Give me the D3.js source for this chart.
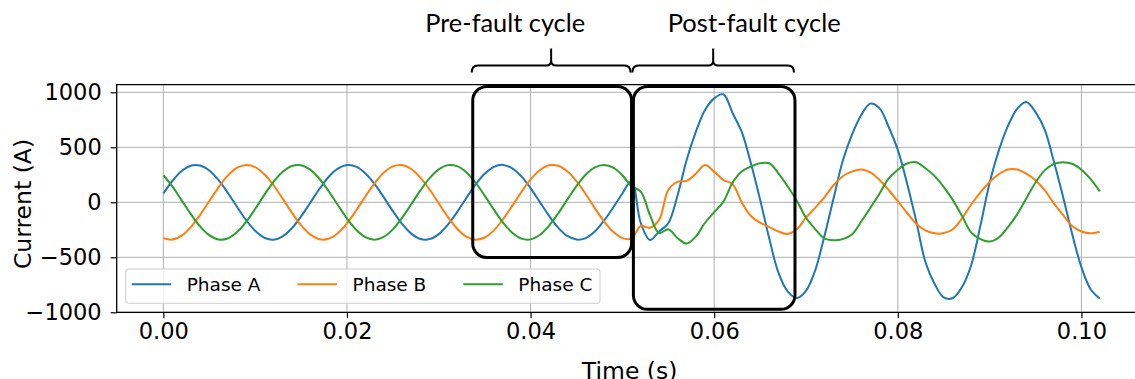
<!DOCTYPE html>
<html>
<head>
<meta charset="utf-8">
<script src="https://cdn.jsdelivr.net/npm/d3@7"></script>
<style>
  body { margin: 0; background: #fff; }
  svg { display: block; }
</style>
</head>
<body>
<svg class="chart" width="1135" height="379"></svg>
<script>
// one sample per millisecond, 0 .. 102 ms
var timeMs = d3.range(0, 103);

// currents in A
var phaseA = [80, 196, 285, 333, 335, 289, 203, 89, -38, -160,
    -259, -322, -340, -309, -236, -129, -4, 121, 230, 306,
    339, 325, 265, 167, 47, -80, -196, -285, -333, -335,
    -289, -203, -89, 38, 160, 259, 322, 340, 309, 236,
    129, 4, -121, -230, -306, -339, -325, -265, -167, -47,
    80, 194, -188, -342, -265, -190, 60, 385, 640, 839,
    945, 982, 812, 640, 355, 25, -330, -640, -810, -870,
    -805, -620, -310, 35, 375, 612, 791, 897, 856, 687,
    476, 176, -168, -540, -740, -865, -870, -770, -570, -212,
    175, 470, 695, 850, 912, 820, 660, 370, 50, -290,
    -590, -790, -875];

var phaseB = [-326, -339, -303, -225, -116, 10, 134, 240, 312, 340,
    320, 255, 155, 33, -94, -208, -292, -336, -332, -282,
    -192, -75, 53, 173, 268, 326, 339, 303, 225, 116,
    -10, -134, -240, -312, -340, -320, -255, -155, -33, 94,
    208, 292, 336, 332, 282, 192, 75, -53, -173, -268,
    -326, -328, -215, -232, -160, 112, 185, 195, 260, 339,
    279, 203, 165, 0, -125, -185, -225, -265, -288, -244,
    -140, -50, 45, 155, 237, 279, 298, 272, 205, 112,
    10, -95, -195, -255, -282, -280, -245, -145, -20, 90,
    185, 255, 298, 298, 260, 200, 110, -10, -115, -215,
    -265, -282, -267];

var phaseC = [246, 142, 18, -108, -219, -299, -338, -329, -273, -180,
    -61, 67, 185, 277, 330, 337, 297, 214, 102, -24,
    -147, -250, -317, -340, -315, -246, -142, -18, 108, 219,
    299, 338, 329, 273, 180, 61, -67, -185, -277, -330,
    -337, -297, -214, -102, 24, 147, 250, 317, 340, 315,
    246, 145, 97, -115, -280, -245, -325, -375, -312, -186,
    -90, 6, 178, 280, 325, 355, 355, 264, 145, 15,
    -141, -244, -328, -345, -335, -293, -177, -52, 78, 215,
    296, 353, 364, 310, 240, 140, 20, -125, -275, -335,
    -357, -320, -225, -110, 35, 180, 290, 350, 365, 350,
    295, 210, 100];

var seriesNames = ["Phase A", "Phase B", "Phase C"];
var colors = ["#1f77b4", "#ff7f0e", "#2ca02c"];

var xTicks = [0, 0.02, 0.04, 0.06, 0.08, 0.10];
var yTicks = [-1000, -500, 0, 500, 1000];

// the two highlighted cycles: time span (s) and current span (A)
var cycleNames = ["Pre-fault cycle", "Post-fault cycle"];
var cycleStart = [0.0337, 0.0512];
var cycleEnd = [0.0510, 0.0688];
var cycleTop = [1053, 1053];
var cycleBottom = [-502, -973];

var allSeries = [phaseA, phaseB, phaseC];

// axes box (right spine falls just outside the picture, like the original)
var box = {left: 116.7, right: 1146.6, top: 84.6, bottom: 312.3};

var x = d3.scaleLinear()
    .domain([-0.00508, 0.1071])
    .range([box.left, box.right]);

var y = d3.scaleLinear()
    .domain([-1000, 1070])
    .range([box.bottom, box.top]);

var chart = d3.select('.chart');
var tickFont = "'DejaVu Sans', sans-serif";

// grid
var grid = chart.append('g').attr('class', 'grid');
grid.selectAll('.vgrid')
    .data(xTicks)
    .enter().append('line')
    .attr('x1', function(d) { return x(d); })
    .attr('x2', function(d) { return x(d); })
    .attr('y1', box.top)
    .attr('y2', box.bottom)
    .style('stroke', '#b0b0b0')
    .style('stroke-width', '1px');
grid.selectAll('.hgrid')
    .data(yTicks)
    .enter().append('line')
    .attr('x1', box.left)
    .attr('x2', box.right)
    .attr('y1', function(d) { return y(d); })
    .attr('y2', function(d) { return y(d); })
    .style('stroke', '#b0b0b0')
    .style('stroke-width', '1px');

// current traces
var line = d3.line()
    .x(function(d, i) { return x(timeMs[i] / 1000); })
    .y(function(d) { return y(d); })
    .curve(d3.curveCatmullRom.alpha(0.5));

chart.append('g').attr('class', 'traces')
    .selectAll('path')
    .data(allSeries)
    .enter().append('path')
    .attr('d', line)
    .style('fill', 'none')
    .style('stroke', function(d, i) { return colors[i]; })
    .style('stroke-width', '2px')
    .style('stroke-linejoin', 'round');

// axes
var xAxis = d3.axisBottom(x)
    .tickValues(xTicks)
    .tickFormat(d3.format('.2f'))
    .tickSize(6)
    .tickPadding(5);

var yAxis = d3.axisLeft(y)
    .tickValues(yTicks)
    .tickFormat(d3.format('d'))
    .tickSize(6)
    .tickPadding(9);

function styleAxis(g) {
    g.select('.domain').remove();
    g.selectAll('.tick line').style('stroke', '#000').style('stroke-width', '1.2px');
    g.selectAll('.tick text')
        .style('font-family', tickFont)
        .style('font-size', '22.5px')
        .style('fill', '#000');
}

chart.append('g')
    .attr('transform', 'translate(0,' + box.bottom + ')')
    .call(xAxis)
    .call(styleAxis);

chart.append('g')
    .attr('transform', 'translate(' + box.left + ',0)')
    .call(yAxis)
    .call(styleAxis);

// spines: left, top, bottom
var spines = [
    [box.left, box.top, box.left, box.bottom],
    [box.left, box.top, box.right, box.top],
    [box.left, box.bottom, box.right, box.bottom]
];
chart.append('g').selectAll('line')
    .data(spines)
    .enter().append('line')
    .attr('x1', function(d) { return d[0]; })
    .attr('y1', function(d) { return d[1]; })
    .attr('x2', function(d) { return d[2]; })
    .attr('y2', function(d) { return d[3]; })
    .style('stroke', '#000')
    .style('stroke-width', '1.3px')
    .style('stroke-linecap', 'square');

// axis labels
chart.append('text')
    .attr('x', (box.left + box.right) / 2 - 2)
    .attr('y', 378.8)
    .attr('text-anchor', 'middle')
    .style('font-family', tickFont)
    .style('font-size', '23.5px')
    .text('Time (s)');

chart.append('text')
    .attr('transform', 'translate(30.5,204) rotate(-90)')
    .attr('text-anchor', 'middle')
    .style('font-family', tickFont)
    .style('font-size', '23.5px')
    .text('Current (A)');

// legend (three columns, lower left)
var legend = chart.append('g').attr('class', 'legend');
legend.append('rect')
    .attr('x', 125.7)
    .attr('y', 269)
    .attr('width', 474.3)
    .attr('height', 34.3)
    .attr('rx', 3)
    .style('fill', '#fff')
    .style('fill-opacity', 0.8)
    .style('stroke', '#cccccc')
    .style('stroke-width', '1px');

var entry = legend.selectAll('.entry')
    .data(seriesNames)
    .enter().append('g')
    .attr('transform', function(d, i) { return 'translate(' + (131.7 + i * 165.8) + ',284.3)'; });
entry.append('line')
    .attr('x1', 0)
    .attr('x2', 39.5)
    .style('stroke', function(d, i) { return colors[i]; })
    .style('stroke-width', '2px');
entry.append('text')
    .attr('x', 55)
    .attr('y', 6.6)
    .style('font-family', tickFont)
    .style('font-size', '18.5px')
    .text(function(d) { return d; });

// cycle boxes
var notes = chart.append('g').attr('class', 'notes');
notes.selectAll('rect')
    .data(cycleNames)
    .enter().append('rect')
    .attr('x', function(d, i) { return x(cycleStart[i]); })
    .attr('y', function(d, i) { return y(cycleTop[i]); })
    .attr('width', function(d, i) { return x(cycleEnd[i]) - x(cycleStart[i]); })
    .attr('height', function(d, i) { return y(cycleBottom[i]) - y(cycleTop[i]); })
    .attr('rx', 14)
    .style('fill', 'none')
    .style('stroke', '#000')
    .style('stroke-width', '3px');

// curly braces above the boxes
var braceFoot = box.top - 12, braceBar = box.top - 19, braceTip = box.top - 36;
function bracePath(x0, x1) {
    var m = (x0 + x1) / 2;
    return 'M' + x0 + ',' + braceFoot +
        'Q' + x0 + ',' + braceBar + ' ' + (x0 + 6) + ',' + braceBar +
        'L' + (m - 5) + ',' + braceBar +
        'Q' + m + ',' + braceBar + ' ' + m + ',' + (braceBar - 5) +
        'L' + m + ',' + braceTip +
        'M' + m + ',' + (braceBar - 5) +
        'Q' + m + ',' + braceBar + ' ' + (m + 5) + ',' + braceBar +
        'L' + (x1 - 6) + ',' + braceBar +
        'Q' + x1 + ',' + braceBar + ' ' + x1 + ',' + braceFoot;
}
notes.selectAll('.brace')
    .data(cycleNames)
    .enter().append('path')
    .attr('d', function(d, i) { return bracePath(x(cycleStart[i]) - 1, x(cycleEnd[i]) - 1); })
    .style('fill', 'none')
    .style('stroke', '#000')
    .style('stroke-width', '2px');

// captions, shifted off the brace tips as in the original
var captionShift = [-47, 40];
var captionWidth = [160, 173];
notes.selectAll('.caption')
    .data(cycleNames)
    .enter().append('text')
    .attr('x', function(d, i) { return (x(cycleStart[i]) + x(cycleEnd[i])) / 2 + captionShift[i]; })
    .attr('y', 32.3)
    .attr('text-anchor', 'middle')
    .style('font-family', "Lato, 'Open Sans', sans-serif")
    .style('font-size', '24px')
    .text(function(d) { return d; })
    .each(function(d, i) {
        var w = this.getComputedTextLength();
        if (w > 0) d3.select(this).style('font-size', (24 * captionWidth[i] / w) + 'px');
    });
</script>
</body>
</html>
